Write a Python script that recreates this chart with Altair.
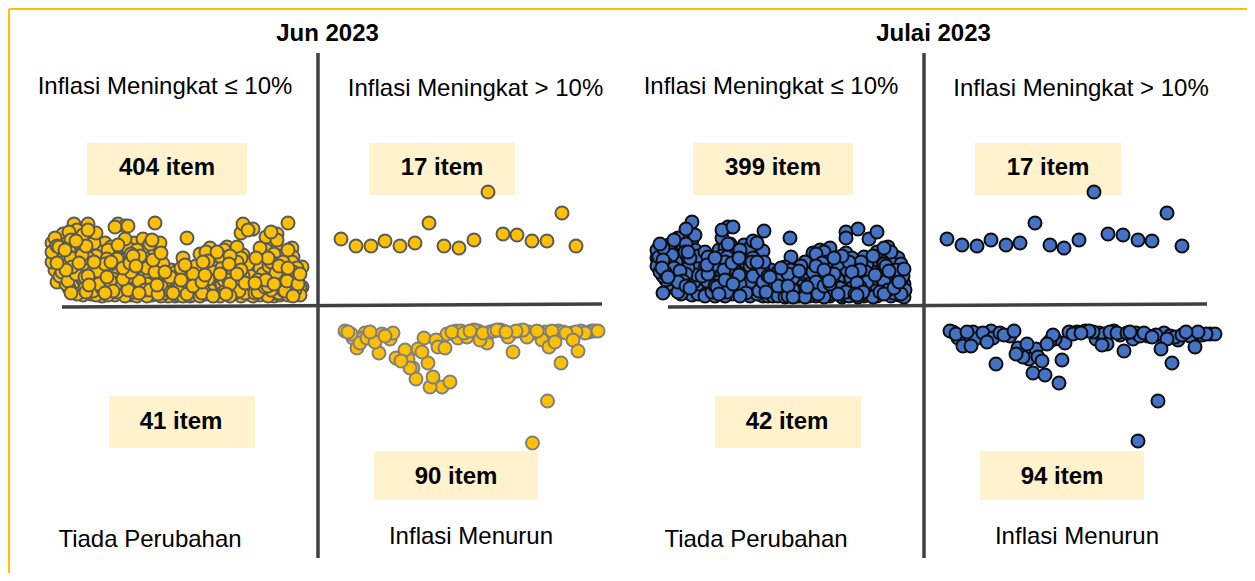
import altair as alt
import pandas as pd

W, H = 1239, 565

# x -> list of y values
jun_naik_kecil = {
52:[243,252,262],55:[238,249,258,270],57:[282,246,263],60:[240,254,268,276],63:[234,248,261,278],
66:[244,256,270,284],69:[232,250,264,276,288],71:[293,240,258,272],74:[224,236,247,262,281],
77:[230,252,268,286,294],80:[242,258,276,290],83:[235,250,264,280,295],86:[246,270,284,292],
88:[224,230,238,258,276],91:[248,266,282,294],94:[243,262,274,288],96:[233,256,278,295],
99:[268,284,292],102:[252,274,288,296],105:[243,264,280,293],108:[250,270,284,295],111:[247,262,276,290],
115:[227,256,272,286,295],118:[224,245,266,280,289],121:[252,274,292],125:[226,239,260,284,296],
128:[226,248,268,278,290],131:[254,272,286,295],134:[243,262,280,292],137:[250,270,284,296],
140:[256,274,288],143:[239,262,280,293],147:[248,268,284,296],150:[244,258,276,290],152:[240,266,282,295],
155:[223,252,272,288],158:[246,264,280,294],160:[243,258,276,290],161:[253,268,286,296],
165:[272,284,293],168:[276,288,296],171:[270,282,292],175:[278,290,296],178:[272,286,295],
181:[268,280,292],183:[258,276,288,296],187:[238,270,284,294],190:[268,280,290,296],193:[274,286,295],
196:[266,278,292],200:[254,270,284,296],203:[262,276,290],206:[252,268,282,294],210:[248,264,278,290],
213:[258,272,286,296],217:[252,268,282,293],220:[256,274,288,296],224:[250,266,280,292],227:[247,260,276,288],
230:[256,270,284,296],233:[264,278,292],237:[247,262,274,288],241:[233,258,270,284,296],243:[224,255,276,290],
248:[230,264,280,294],253:[229,272,286,296],256:[258,276,290],260:[248,268,284,295],263:[254,274,288],
266:[237,250,264,280,293],268:[258,272,286,296],271:[232,246,262,278,290],274:[254,270,284,296],
277:[234,240,250,264,280,292],280:[256,272,288,295],283:[262,276,290],288:[223,250,268,284,295],
292:[248,262,278,290],293:[257,272,286,296],297:[268,280,293],300:[274,287,295],302:[267,287],
}
jun_naik_padat = {
54:[255],59:[247,261],62:[272],65:[250,266],68:[258,281],72:[253,267],76:[241,274],79:[263,281],82:[255,271],
85:[277,288],89:[263,285],93:[255,279,291],97:[271,286],101:[264,281],104:[271,287],107:[259,277],110:[267,281,293],
113:[264,279,291],117:[259,275,292],120:[263,284],123:[268,279,289],127:[255,273,291],130:[263,281],133:[256,275,289],
136:[266,278,291],139:[263,281,293],142:[253,271,287],145:[258,276,290],149:[271,287],153:[260,278,292],157:[270,285],
163:[264,279,291],167:[281,291],170:[277,287],173:[284,293],176:[272,283,292],180:[275,287],185:[265,281,291],
189:[275,287],192:[281,291],195:[272,285],198:[278,289],202:[268,282,293],205:[275,288],208:[261,279,291],
212:[266,282,293],215:[276,289],219:[263,279,291],222:[268,284],226:[273,285,294],229:[264,280,291],232:[272,287],
235:[268,283,293],239:[265,279,291],242:[272,287],245:[262,283,293],247:[271,288],250:[276,290],255:[268,283,293],
258:[280,292],262:[263,279,291],265:[272,287],269:[266,282,292],273:[276,290],276:[258,273,287],279:[266,282,293],
282:[270,285],285:[277,291],287:[262,281],290:[272,287],295:[275,290],298:[284],
}
jun_naik_besar = {341:[239],356:[246],371:[246],385:[241],400:[246],415:[243],429:[223],444:[246],459:[248],
474:[240],488:[192],503:[234],517:[235],532:[241],547:[241],562:[213],576:[246]}
jun_turun = {
345:[331],348:[332],351:[334],353:[338],357:[348],360:[343],363:[338],365:[333],367:[338],370:[332],
375:[342],379:[353],382:[334],385:[336],390:[339],393:[333],396:[358],401:[361],405:[350],408:[359],
410:[368],413:[368],416:[379],418:[349],422:[352],424:[338],428:[363],430:[387],433:[377],436:[340],
438:[347],442:[387],445:[348],450:[382],447:[334],452:[332],456:[331],458:[338],461:[331],464:[333],
467:[337],470:[331],474:[330],478:[331],480:[340],483:[333],487:[343],490:[332],494:[331],497:[330],
500:[330],503:[331],506:[332],508:[337],513:[352],512:[333],516:[331],519:[331],523:[330],527:[337],
529:[332],533:[333],537:[331],542:[340],540:[333],545:[332],549:[347],552:[331],555:[342],558:[331],
561:[363],563:[332],566:[333],569:[334],573:[340],572:[333],576:[332],578:[351],581:[331],585:[333],
589:[332],592:[331],595:[331],598:[331],547.5:[401],532.5:[443],
}

jul_naik_kecil = {
657:[250,258,266],660:[244,254,262,272],663:[293,248,260,276],666:[252,264,280],669:[245,256,270,284],
671:[245,262,276],674:[240,252,268,288],678:[238,256,272,282,292],681:[248,264,278,294],
686:[229,244,258,274,286],688:[293,252,268,282],692:[222,240,262,278,295],695:[235,250,272,288],
698:[256,270,284,294],702:[262,276,290],705:[252,268,282,296],708:[257,274,288],712:[264,278,292],
715:[258,272,286,296],719:[250,266,282,294],722:[230,238,256,274,290],725:[248,262,280,296],
728:[227,244,268,286],730:[244,258,276,292],733:[227,252,270,284],737:[260,278,292],740:[250,268,284,296],
744:[245,262,276,290],747:[254,272,286],750:[248,266,282,296],753:[241,258,276,290],757:[243,262,280,294],
760:[250,270,286],763:[251,270,282,296],764:[231,262,276,292],768:[276,288,296],771:[270,284,294],
775:[278,294],778:[272,286,296],781:[268,282,294],785:[267,278,290,297],788:[274,286,296],
790:[238,282,294],791:[257,270,288],793:[278,290,297],797:[272,284,296],801:[266,280,292],
805:[262,276,290,297],809:[268,284,296],813:[253,272,288],816:[254,266,282,296],820:[250,276,292],
824:[252,270,286,297],827:[262,278,292],830:[248,268,284,296],834:[258,274,290],838:[264,280,294],
842:[256,270,286,297],846:[232,238,253,276,292],849:[262,282,296],852:[258,272,288],855:[266,280,294],
858:[229,274,290,297],861:[262,278,292],864:[257,270,286,296],867:[264,282,294],869:[239,276,290],
873:[256,272,288,297],877:[232,252,268,284,296],880:[260,276,292],884:[248,264,282,294],888:[247,258,274,290],
891:[252,268,284,296],894:[256,272,288],898:[258,276,292],901:[264,280,294],904:[269,284,297],905:[290],
}
jul_naik_padat = {
659:[257],662:[268],665:[258,272],668:[263,277],672:[255,271],676:[262,280],680:[256,271,287],683:[265,281],
685:[252,276],690:[258,273,288],694:[264,282],697:[275,290],700:[267,283],704:[275,291],707:[265,281,294],
710:[271,285],714:[265,279,291],717:[272,287],721:[263,281],724:[270,286],727:[257,278,292],732:[263,281,294],
735:[271,287],739:[258,275,291],742:[266,281],746:[263,279,293],749:[271,287],752:[262,281],755:[270,286],
759:[278,291],762:[286],766:[282,292],770:[277,289],773:[285,296],777:[280,291],780:[275,288],783:[284,295],
787:[280,291],792:[284,296],795:[276,290],799:[271,286,296],803:[280,293],807:[272,287],811:[278,292],
815:[272,289],818:[281,294],822:[263,283],826:[274,289],829:[281,294],832:[266,280,292],836:[271,286],
840:[275,288],844:[264,282,295],847:[270,287],851:[278,293],854:[272,286],857:[283,295],860:[270,287],
863:[279,292],866:[272,288],871:[265,282,294],875:[275,291],879:[268,284],882:[274,288],886:[266,279,292],
889:[271,286],893:[264,280,293],896:[270,285],899:[282,295],903:[276,291],
}
jul_naik_besar = {947:[239],962:[245],977:[246],991:[240],1006:[245],1020:[243],1035:[223],1050:[245],1064:[248],
1079:[240],1094:[192],1108:[234],1123:[235],1138:[240],1152:[241],1167:[213],1182:[246]}
jul_turun = {
950:[331],953:[332],956:[334],958:[338],963:[346],967:[332],971:[346],973:[332],975:[339],979:[334],
983:[333],987:[342],991:[331],993:[338],996:[364],1000:[333],1004:[335],1010:[336],1014:[331],
1016:[354],1018:[348],1023:[357],1027:[344],1029:[359],1033:[373],1036:[349],1038:[357],1042:[361],
1045:[375],1047:[344],1050:[341],1053:[335],1055:[339],1059:[383],1062:[360],1065:[343],1069:[332],
1073:[334],1077:[332],1081:[333],1085:[331],1089:[331],1093:[332],1096:[339],1099:[333],1102:[345],
1104:[334],1107:[344],1110:[332],1114:[331],1117:[333],1120:[335],1124:[351],1127:[333],1130:[332],
1133:[339],1136:[333],1140:[336],1144:[333],1148:[336],1152:[337],1156:[335],1161:[349],1164:[333],
1167:[339],1170:[336],1172:[363],1175:[337],1178:[340],1182:[335],1186:[332],1190:[336],1195:[347],
1198:[332],1202:[335],1206:[334],1210:[334],1215:[334],1158:[401],1138:[441],
}

rule_x = [318,924,62,668,9,9]
rule_x2 = [318,924,602,1207,1247,9]
rule_y = [53,53,307,307,9,9]
rule_y2 = [558,558,304,304,9,573]
rule_kind = ["axis","axis","axis","axis","border","border"]

box_x = [87,369,693,975,109,715,374,980]
box_x2 = [247,515,853,1121,255,861,538,1144]
box_y = [143,143,143,143,396,396,451,451]
box_y2 = [195,195,195,195,448,448,500,500]

bulan = ["Jun 2023","Julai 2023"]
bulan_x = [327.5,933.5]
bulan_y = [34,34]
kuadran = ["Inflasi Meningkat ≤ 10%","Inflasi Meningkat > 10%","Inflasi Meningkat ≤ 10%","Inflasi Meningkat > 10%",
           "Tiada Perubahan","Inflasi Menurun","Tiada Perubahan","Inflasi Menurun"]
kuadran_x = [165,475.5,771,1081,150,471,756,1077]
kuadran_y = [87,89,87,89,540,537,540,537]
jumlah = ["404 item","17 item","399 item","17 item","41 item","42 item","90 item","94 item"]
jumlah_x = [167,442,773,1048,181,787,456,1062]
jumlah_y = [168,168,168,168,422,422,477,477]

def flat(*ds):
    rows = [{"x":k,"y":v} for d in ds for k,vs in d.items() for v in vs]
    df = pd.DataFrame(rows)
    # drawing order only: break the left-to-right stacking; the values are untouched
    key = (df["x"]*7 + df["y"]*3) % 17
    return df.assign(k=key).sort_values("k",kind="stable").drop(columns="k")

sx = alt.Scale(domain=[8,8+W],range=[0,W],nice=False,zero=False)
sy = alt.Scale(domain=[8+H,8],range=[H,0],nice=False,zero=False)
X = alt.X("x:Q",scale=sx,axis=None)
Y = alt.Y("y:Q",scale=sy,axis=None)

rects = alt.Chart(pd.DataFrame({"x":box_x,"x2":box_x2,"y":box_y,"y2":box_y2})).mark_rect(color="#FFF2CC").encode(X,Y,x2="x2:Q",y2="y2:Q")
rd = pd.DataFrame({"x":rule_x,"x2":rule_x2,"y":rule_y,"y2":rule_y2,"k":rule_kind})
border = alt.Chart(rd[rd.k=="border"]).mark_rule(color="#FFC000",strokeWidth=2).encode(X,Y,x2="x2:Q",y2="y2:Q")
axes = alt.Chart(rd[rd.k=="axis"]).mark_rule(color="#404040",strokeWidth=3.5).encode(X,Y,x2="x2:Q",y2="y2:Q")

def pts(fill,stroke,*ds):
    return alt.Chart(flat(*ds)).mark_point(filled=True,shape="circle",size=169,fill=fill,stroke=stroke,strokeWidth=2,opacity=1).encode(X,Y)

def txt(labels,xs,ys,size,weight):
    return alt.Chart(pd.DataFrame({"t":labels,"x":xs,"y":ys})).mark_text(font="Liberation Sans",fontSize=size,fontWeight=weight,color="#000000",align="center",baseline="middle").encode(X,Y,text="t:N")

chart = alt.layer(
    rects,border,axes,
    pts("#FFC000","#595959",jun_naik_kecil,jun_naik_padat),pts("#FFC000","#595959",jun_naik_besar),pts("#FFC000","#7F7F7F",jun_turun),
    pts("#4472C4","#0D0D0D",jul_naik_kecil,jul_naik_padat),pts("#4472C4","#0D0D0D",jul_naik_besar),pts("#4472C4","#0D0D0D",jul_turun),
    txt(bulan,bulan_x,bulan_y,24,"bold"),txt(kuadran,kuadran_x,kuadran_y,24,"normal"),txt(jumlah,jumlah_x,jumlah_y,24,"bold"),
).properties(width=W,height=H,padding=0,autosize=alt.AutoSizeParams(type="none")).configure_view(stroke=None)

chart.save("out.html",embed_options={"renderer":"svg","actions":False})
